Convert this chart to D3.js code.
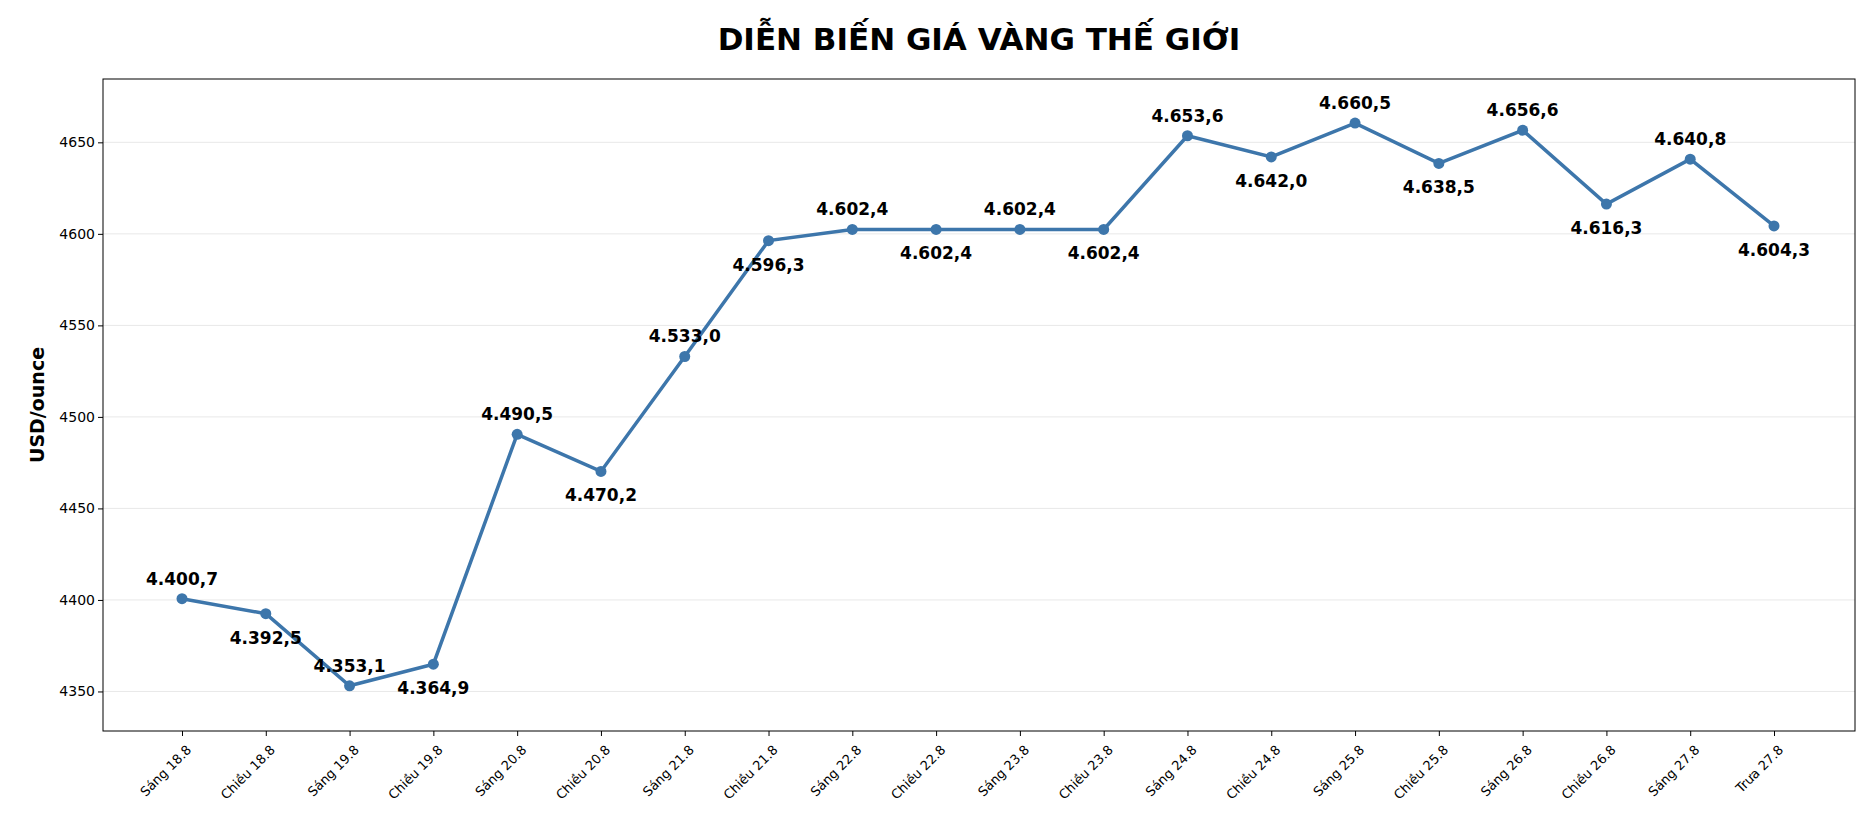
<!DOCTYPE html>
<html><head><meta charset="utf-8">
<script src="https://cdn.jsdelivr.net/npm/d3@7"></script>
<style>body{margin:0;background:#fff;font-family:"DejaVu Sans",sans-serif;}</style>
</head><body><svg id="c" width="1876" height="838"></svg>
<script>
const categories=["Sáng 18.8","Chiều 18.8","Sáng 19.8","Chiều 19.8","Sáng 20.8","Chiều 20.8","Sáng 21.8","Chiều 21.8","Sáng 22.8","Chiều 22.8","Sáng 23.8","Chiều 23.8","Sáng 24.8","Chiều 24.8","Sáng 25.8","Chiều 25.8","Sáng 26.8","Chiều 26.8","Sáng 27.8","Trưa 27.8"];
const prices=[4400.7,4392.5,4353.1,4364.9,4490.5,4470.2,4533.0,4596.3,4602.4,4602.4,4602.4,4602.4,4653.6,4642.0,4660.5,4638.5,4656.6,4616.3,4640.8,4604.3];
const yTicks=[4350,4400,4450,4500,4550,4600,4650];
const svg=d3.select("#c");
const L=103,R=1855,T=79,B=731;
const color="#3d76ab";
const x=d3.scalePoint().domain(categories).range([182,1774]);
const y=d3.scaleLinear().domain([4328.4,4684.6]).range([B,T]);
svg.append("g").selectAll("line").data(yTicks).join("line")
 .attr("x1",L).attr("x2",R).attr("y1",d=>y(d)).attr("y2",d=>y(d)).attr("stroke","#e8e8e8").attr("stroke-width",1);
const ya=svg.append("g").attr("transform",`translate(${L},0)`).call(d3.axisLeft(y).tickValues(yTicks).tickSize(5).tickFormat(d3.format("d")));
ya.selectAll("text").attr("font-size",14).attr("fill","#000").attr("font-family","DejaVu Sans");
const xa=svg.append("g").attr("transform",`translate(0,${B})`).call(d3.axisBottom(x).tickSize(5));
xa.selectAll("text").attr("font-size",13).attr("fill","#000").attr("font-family","DejaVu Sans")
 .attr("text-anchor","end").attr("dx","0").attr("dy","0").attr("transform","translate(4,14) rotate(-45)");
svg.selectAll(".domain").remove();
svg.append("rect").attr("x",L).attr("y",T).attr("width",R-L).attr("height",B-T).attr("fill","none").attr("stroke","#000").attr("stroke-width",1);
svg.append("path").datum(prices).attr("fill","none").attr("stroke",color).attr("stroke-width",3.5)
 .attr("d",d3.line().x((d,i)=>x(categories[i])).y(d=>y(d)));
svg.append("g").selectAll("circle").data(prices).join("circle")
 .attr("cx",(d,i)=>x(categories[i])).attr("cy",d=>y(d)).attr("r",5.5).attr("fill",color);
const fmt=v=>{const s=v.toFixed(1).split(".");return s[0][0]+"."+s[0].slice(1)+","+s[1];};
svg.append("g").selectAll("text").data(prices).join("text")
 .attr("x",(d,i)=>x(categories[i])).attr("y",(d,i)=>y(d)+(i%2===0?-14:30))
 .attr("text-anchor","middle").attr("font-size",17).attr("font-weight","bold").attr("fill","#000").text(fmt);
svg.append("text").attr("x",979).attr("y",50).attr("text-anchor","middle").attr("font-size",31).attr("font-weight","bold").text("DIỄN BIẾN GIÁ VÀNG THẾ GIỚI");
svg.append("text").attr("transform",`translate(44,${(T+B)/2}) rotate(-90)`).attr("text-anchor","middle").attr("font-size",19).attr("font-weight","bold").text("USD/ounce");
</script></body></html>
